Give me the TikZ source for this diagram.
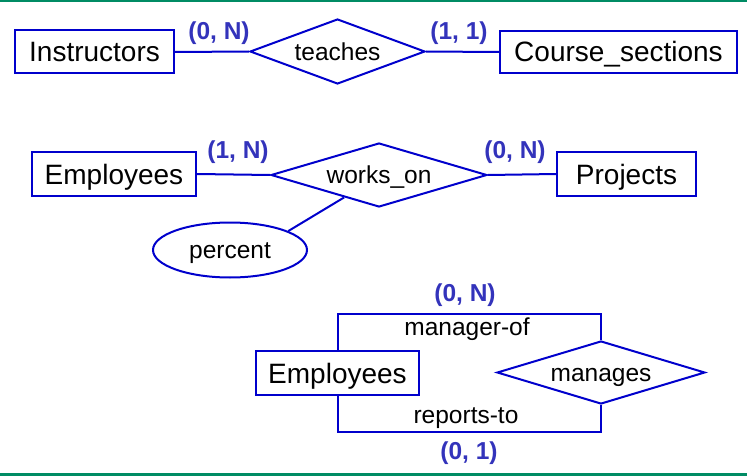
\documentclass[tikz,border=0pt]{standalone}
\usepackage{fontspec}
\setmainfont{Liberation Sans}
\usetikzlibrary{shapes.geometric,calc}
\definecolor{erblue}{RGB}{0,0,204}
\definecolor{cardblue}{RGB}{51,51,187}
\definecolor{bargreen}{RGB}{0,140,100}
\tikzset{
  entity/.style={draw=erblue, line width=2pt, rectangle, inner sep=0pt, text height=20pt, text depth=0pt, font=\fontsize{28}{30}\selectfont},
  rel/.style={draw=erblue, line width=2pt, diamond, aspect=3, inner sep=0pt, text height=17.5pt, text depth=0pt, font=\fontsize{24.5}{26}\selectfont},
  attr/.style={draw=erblue, line width=2pt, ellipse, inner sep=0pt, text height=17.5pt, text depth=0pt, font=\fontsize{24.5}{26}\selectfont},
  conn/.style={draw=erblue, line width=2pt},
  card/.style={text=cardblue, font=\fontsize{24.5}{26}\selectfont\bfseries, inner sep=0pt},
  rolelbl/.style={font=\fontsize{24.5}{26}\selectfont, inner sep=0pt, anchor=base},
}
\begin{document}
\begin{tikzpicture}[x=1pt, y=-1pt]
\useasboundingbox (0,0) rectangle (747,476);
\fill[bargreen] (0,0) rectangle (747,2.5);
\fill[bargreen] (0,473) rectangle (747,476);

% row 1
\node[entity, minimum width=159, minimum height=43] (ins) at (94.5,52) {Instructors};
\node[rel, minimum width=175, minimum height=65] (teaches) at (337.5,51.5) {teaches};
\node[entity, minimum width=237, minimum height=42] (cs) at (618.5,52) {Course\_sections};
\draw[conn] (ins.east) -- (teaches.west);
\draw[conn] (teaches.east) -- (cs.west);
\node[card] (c1) at (219,33) {(0, N)};
\node[card] (c2) at (459,33) {(1, 1)};

% row 2
\node[entity, minimum width=164, minimum height=44] (emp1) at (114,174) {Employees};
\node[rel, minimum width=216, minimum height=64] (wo) at (379,175) {works\_on};
\node[entity, minimum width=139, minimum height=44] (proj) at (626.5,174) {Projects};
\node[attr, minimum width=154, minimum height=55] (pct) at (230,250) {percent};
\draw[conn] (emp1.east) -- (wo.west);
\draw[conn] (wo.east) -- (proj.west);
\coordinate (woedge) at ($(wo.west)!0.68!(wo.south)$);
\draw[conn] (pct.18) -- (woedge);
\node[card] (c3) at (238,152) {(1, N)};
\node[card] (c4) at (515,152) {(0, N)};

% row 3
\node[entity, minimum width=163, minimum height=44] (emp2) at (337.5,373) {Employees};
\node[rel, minimum width=208, minimum height=63] (man) at (601,372.5) {manages};
\coordinate (mtop) at (337.5,314);
\coordinate (mbot) at (337.5,432);
\draw[conn] (emp2.north) -- (mtop) -| (man.north);
\draw[conn] (man.south) |- (mbot) -- (emp2.south);
\node[card] (c5) at (465,295) {(0, N)};
\node[rolelbl] (r1) at (467,335) {manager-of};
\node[rolelbl] (r2) at (466,423) {reports-to};
\node[card] (c6) at (469,453) {(0, 1)};
\end{tikzpicture}
\end{document}
